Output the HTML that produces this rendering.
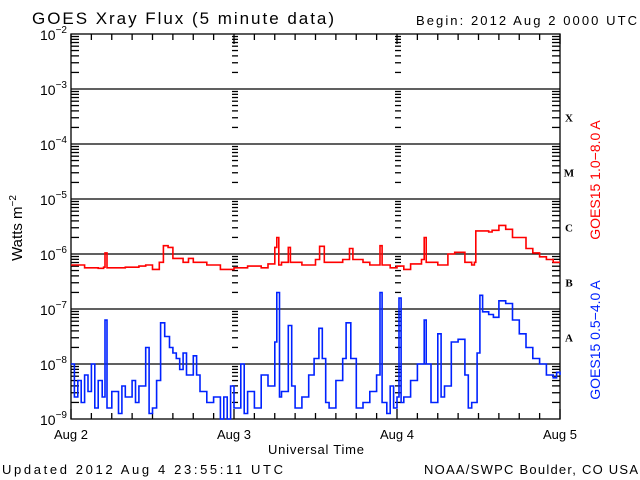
<!DOCTYPE html>
<html><head><meta charset="utf-8"><style>
body{margin:0;background:#fff}
svg{display:block;font-family:"Liberation Sans",sans-serif}
</style></head><body>
<svg id="c" width="640" height="480" viewBox="0 0 640 480">
<text x="32" y="24" font-size="17" textLength="302" lengthAdjust="spacing">GOES Xray Flux (5 minute data)</text>
<text x="416" y="25" font-size="13" textLength="221" lengthAdjust="spacing">Begin:  2012 Aug 2 0000 UTC</text>
<text transform="translate(22,228) rotate(-90)" text-anchor="middle" font-size="15">Watts m<tspan dy="-6" font-size="10">−2</tspan></text>
<text x="268" y="454" font-size="13" textLength="96" lengthAdjust="spacing">Universal Time</text>
<text x="2" y="474" font-size="13" textLength="281" lengthAdjust="spacing">Updated 2012 Aug  4 23:55:11 UTC</text>
<text x="424" y="474" font-size="13" textLength="214" lengthAdjust="spacing">NOAA/SWPC Boulder, CO USA</text>
<text transform="translate(600,180) rotate(-90)" text-anchor="middle" font-size="14" fill="#ff0000">GOES15 1.0−8.0 A</text>
<text transform="translate(600,340) rotate(-90)" text-anchor="middle" font-size="14" fill="#0022ff">GOES15 0.5−4.0 A</text>
<g id="ax"></g>
</svg>
<script>
const dayLabels=["Aug 2","Aug 3","Aug 4","Aug 5"];
const decades=[-9,-8,-7,-6,-5,-4,-3,-2];
const classLabels=["A","B","C","M","X"];
const classLevels=[-8,-7,-6,-5,-4];
const redT=[0,2,4,4.8,5,5.3,8,10,11,12,13,13.6,14.3,15,16.5,17.3,18,20,22,24,26,28,29,30,30.3,30.6,31,32,32.3,34,36,36.6,37.3,39,40,41,41.5,43,44,45.5,45.8,47,48,49,50,51.6,52,52.3,54,55.5,56.5,58,59,59.4,59.6,60.5,61.5,62,63,64,65,67,68,69,70,71,72];
const redV=[-6.2,-6.25,-6.26,-6.24,-5.98,-6.25,-6.24,-6.22,-6.2,-6.28,-6.15,-5.85,-5.88,-6.08,-6.15,-6.08,-6.15,-6.2,-6.28,-6.25,-6.22,-6.25,-6.18,-5.88,-5.7,-6.2,-6.15,-5.88,-6.15,-6.2,-6.1,-5.86,-6.15,-6.15,-6.1,-5.9,-6.1,-6.15,-6.2,-5.85,-6.2,-6.25,-6.22,-6.28,-6.18,-6.1,-5.7,-6.15,-6.2,-6.0,-5.97,-6.15,-6.2,-6.15,-5.58,-5.58,-5.6,-5.57,-5.48,-5.55,-5.7,-5.9,-5.98,-6.05,-6.1,-6.15,-6.15];
const blueT=[0,0.5,1,1.5,2,2.5,3,3.5,4,4.6,5,5.3,6,7,7.5,8,9,9.5,10,11,11.5,12,12.6,13.2,13.8,14.5,15,15.5,16,16.5,17,18,18.5,19,20,21,22,22.5,23,23.5,24,25,25.5,26,27,28,29,30,30.3,30.7,31,32,32.5,33,34,35,35.8,36.5,37,37.5,38,39,40,40.5,41.2,42,43,44,45,45.5,45.8,46.5,47,47.5,48,48.3,48.6,49,50,51,52,52.3,53,54,54.5,55,56,57,58,58.5,59,59.8,60.2,60.6,61.5,62.2,63,64,65,66,67,68,69,70,71,71.5,72];
const blueV=[-8.0,-8.6,-8.3,-8.7,-8.2,-8.5,-8.0,-8.8,-8.3,-8.6,-7.2,-8.8,-8.5,-8.9,-8.4,-8.6,-8.3,-8.7,-8.4,-7.7,-8.9,-8.8,-8.3,-7.25,-7.5,-7.7,-7.8,-7.9,-8.1,-7.8,-8.2,-7.85,-8.2,-8.5,-8.7,-8.6,-9.0,-8.6,-9.0,-8.4,-8.8,-8.0,-8.9,-8.5,-8.8,-8.2,-8.4,-7.6,-6.7,-8.6,-8.5,-7.3,-8.4,-8.8,-8.6,-8.2,-7.9,-7.35,-7.9,-8.7,-8.8,-8.3,-7.9,-7.25,-7.9,-8.8,-8.7,-8.5,-8.2,-6.7,-8.7,-8.9,-8.4,-8.8,-8.6,-6.8,-8.7,-8.6,-8.3,-8.0,-7.2,-8.0,-8.7,-7.45,-8.6,-8.4,-7.6,-7.55,-8.2,-8.8,-8.7,-7.8,-6.75,-7.05,-7.1,-7.15,-6.85,-6.9,-7.2,-7.45,-7.7,-7.9,-8.0,-8.2,-8.25,-8.15,-8.2];

const L=71,R=560,T=34,B=419;
const x=h=>L+(R-L)*h/72;
const y=v=>B-(B-T)*(v+9)/7;
const NS="http://www.w3.org/2000/svg";
const g=document.getElementById('ax');
function mk(tag,attrs,name){const e=document.createElementNS(NS,tag);for(const k in attrs)e.setAttribute(k,attrs[k]);g.appendChild(e);return e;}
function ln(x1,y1,x2,y2,name,c,w){return mk('line',{x1,y1,x2,y2,stroke:c||'#000','stroke-width':w||1.3},name);}
mk('rect',{x:L,y:T,width:R-L,height:B-T,fill:'none',stroke:'#000','stroke-width':1.3},'plot-frame');
decades.forEach(d=>{
  const yy=y(d);
  if(d>-9&&d<-2){ln(L,yy,R,yy,'grid-line');}
  const t=mk('text',{x:L-4,y:yy+6,'text-anchor':'end','font-size':14},'y-tick-label');
  t.textContent='10';
  const s=document.createElementNS(NS,'tspan');s.setAttribute('dy','-7');s.setAttribute('font-size','10');s.textContent='−'+(-d);t.appendChild(s);
  if(d<-2){for(let m=2;m<=9;m++){const yy2=y(d+Math.log10(m));
    ln(L,yy2,L+8,yy2,'y-minor-tick');ln(R-8,yy2,R,yy2,'y-minor-tick');
    [1,2].forEach(k=>{const xd=x(24*k);ln(xd-2,yy2,xd+4,yy2,'day-divider-tick');});
  }}
});
for(let h=0;h<=72;h+=3){const xx=x(h);const len=h%24===0?10:6;
  ln(xx,T,xx,T+len,'x-tick');ln(xx,B-len,xx,B,'x-tick');}
dayLabels.forEach((s,i)=>{const t=mk('text',{x:x(24*i),y:439,'text-anchor':'middle','font-size':13},'x-tick-label');t.textContent=s;});
classLabels.forEach((s,i)=>{const t=mk('text',{x:569,y:y(classLevels[i]+0.5)+5,'text-anchor':'middle','font-size':11,'font-weight':'bold','font-family':'Liberation Serif, serif'},'flare-class-label');t.textContent=s;});
function series(ts,vs,color,name){
  let d='';ts.forEach((t,i)=>{const v=Math.max(-9,vs[i]);const X=x(t).toFixed(1),Y=y(v).toFixed(1);
    if(i===0)d+='M'+X+','+Y;else d+='H'+X+'V'+Y;});
  mk('path',{d,fill:'none',stroke:color,'stroke-width':1.6},name);
}
series(redT,redV,'#ff0000','red-series-line');
series(blueT,blueV,'#0022ff','blue-series-line');
</script>
</body></html>
